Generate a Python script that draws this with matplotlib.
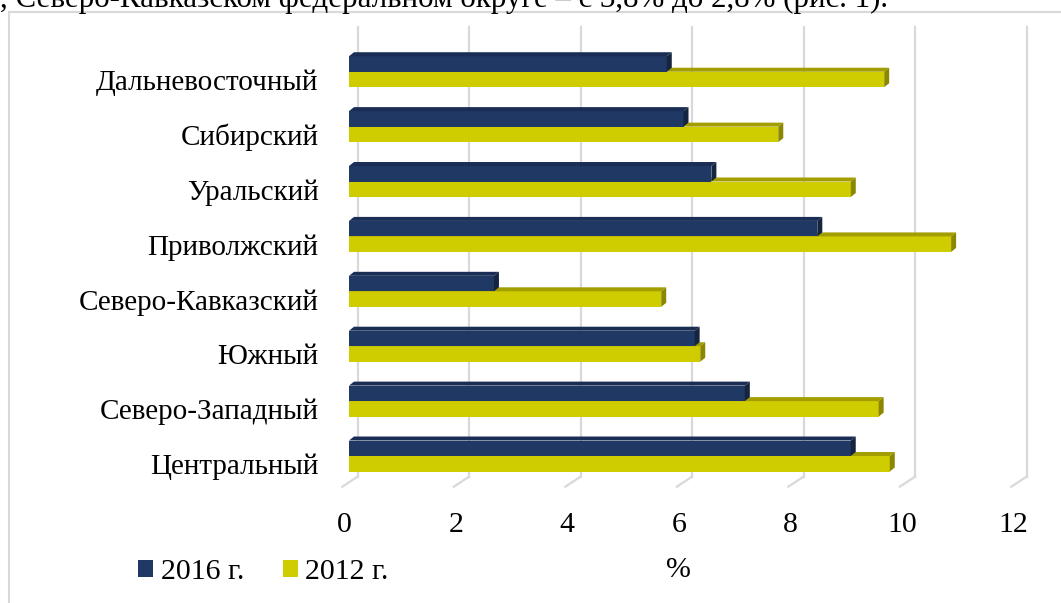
import matplotlib
matplotlib.use("Agg")
import matplotlib.pyplot as plt
import matplotlib.transforms as mtransforms
from matplotlib.patches import Polygon
from matplotlib.lines import Line2D
import numpy as np

# ---- data ----
categories = ['Центральный', 'Северо-Западный', 'Южный', 'Северо-Кавказский',
              'Приволжский', 'Уральский', 'Сибирский', 'Дальневосточный']
values_2016 = [9.0, 7.1, 6.2, 2.6, 8.4, 6.5, 6.0, 5.7]
values_2012 = [9.7, 9.5, 6.3, 5.6, 10.8, 9.0, 7.7, 9.6]
series_labels = ['2016 г.', '2012 г.']
x_ticks = [0, 2, 4, 6, 8, 10, 12]
x_label = '%'
top_text = ', Северо-Кавказском федеральном округе – с 3,8% до 2,8% (рис. 1).'

plt.rcParams['font.family'] = ['Liberation Serif', 'DejaVu Serif']

W, H = 1061, 603
DPI = 100
fig = plt.figure(figsize=(W / DPI, H / DPI), dpi=DPI)

PX_X = 55.75     # pixels per x unit
PX_Y = 54.9      # pixels per category
ax_left, ax_bottom_px, ax_top_px = 349, 486.7, 26.7
ax = fig.add_axes([ax_left / W, (H - ax_bottom_px) / H,
                   PX_X * 12 / W, (ax_bottom_px - ax_top_px) / H])
ax.set_xlim(0, 12)
ax.set_ylim(-0.559, 7.82)
for s in ax.spines.values():
    s.set_visible(False)
ax.set_facecolor('none')

navy = ['#203864', '#1a2e55', '#16253f']      # front, top, side
yellow = ['#cfcc00', '#a39e00', '#8b8700']

ypos = np.arange(len(categories))
h = 15.5 / PX_Y
dx = 5 / PX_X
dy = 4 / PX_Y

# gridlines (back wall) and floor diagonals
back_dx = 8.5 / PX_X
front_dx = -6.7 / PX_X
floor_frac = 10 / (ax_bottom_px - ax_top_px)
xtr = ax.get_xaxis_transform()
for t in x_ticks:
    ax.add_line(Line2D([t + back_dx, t + back_dx], [floor_frac, 1], transform=xtr,
                       color='#d9d9d9', lw=1.6, zorder=0, clip_on=False))
    ax.add_line(Line2D([t + front_dx, t + back_dx], [0, floor_frac], transform=xtr,
                       color='#d9d9d9', lw=1.6, zorder=0, clip_on=False))


def bars3d(vals, bottoms, cols, label, z):
    cont = ax.barh(bottoms + h / 2, vals, height=h, color=cols[0], label=label,
                   zorder=z, edgecolor='none')
    for v, b in zip(vals, bottoms):
        top = Polygon([[0, b + h], [v, b + h], [v + dx, b + h + dy], [dx, b + h + dy]],
                      closed=True, facecolor=cols[1], edgecolor='none', zorder=z)
        side = Polygon([[v, b], [v + dx, b + dy], [v + dx, b + h + dy], [v, b + h]],
                       closed=True, facecolor=cols[2], edgecolor='none', zorder=z)
        ax.add_patch(top)
        ax.add_patch(side)
    return cont


c2012 = bars3d(values_2012, ypos - h, yellow, series_labels[1], 2)
c2016 = bars3d(values_2016, ypos, navy, series_labels[0], 3)

FS_CAT = 21
FS = 21.5
ax.set_yticks(ypos, categories, fontsize=FS_CAT)
ax.set_xticks(x_ticks, [str(t) for t in x_ticks], fontsize=FS)
ax.tick_params(axis='y', length=0, pad=22)
ax.tick_params(axis='x', length=0, pad=18)
for lab in ax.get_yticklabels():
    lab.set_transform(lab.get_transform() +
                      mtransforms.ScaledTranslation(0, -8 / DPI, fig.dpi_scale_trans))
for lab in ax.get_xticklabels():
    lab.set_transform(lab.get_transform() +
                      mtransforms.ScaledTranslation(-4.7 / DPI, 0, fig.dpi_scale_trans))
ax.set_xlabel(x_label, fontsize=FS, labelpad=14)
ax.xaxis.label.set_transform(ax.xaxis.label.get_transform() +
                             mtransforms.ScaledTranslation(-5 / DPI, 0, fig.dpi_scale_trans))

# legend
leg = fig.legend(handles=[c2016, c2012], labels=series_labels, loc='lower left',
                 bbox_to_anchor=(117 / W, (H - 606) / H), ncol=2, frameon=False,
                 fontsize=FS, handlelength=0.52, handleheight=0.52,
                 handletextpad=0.24, columnspacing=1.3, borderpad=0.2)

# chart frame
fig.add_artist(Line2D([9 / W, 9 / W], [0, (H - 12) / H], transform=fig.transFigure,
                      color='#d9d9d9', lw=1.5))
fig.add_artist(Line2D([9 / W, 1], [(H - 12) / H, (H - 12) / H], transform=fig.transFigure,
                      color='#d9d9d9', lw=1.5))

# cut-off document text at top
fig.text(0, (H - 7) / H, top_text, fontsize=22.3, ha='left', va='baseline')

fig.savefig('out.png', dpi=DPI)
